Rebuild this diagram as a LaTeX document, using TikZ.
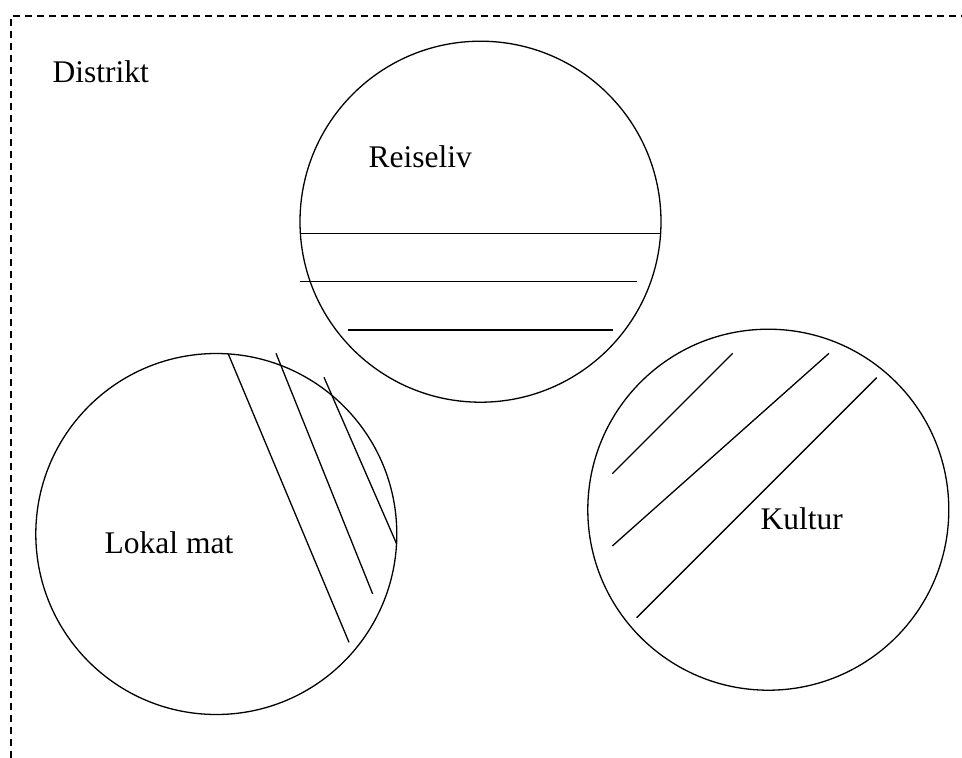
\documentclass[tikz,border=0pt]{standalone}
\usepackage{fontspec}
\setmainfont{Liberation Serif}
\usepackage{tikz}
\usetikzlibrary{positioning}

\begin{document}
\begin{tikzpicture}[x=1pt,y=-1pt,line width=1.3pt,
    area/.style={circle,draw,minimum size=361pt,inner sep=0pt},
    label/.style={anchor=base west,inner sep=0pt,font=\fontsize{31.5}{37}\selectfont},
    hatch/.style={line width=1.3pt}]
  \useasboundingbox (0,0) rectangle (962,758);
  % district frame
  \coordinate (fbot) at (11,758);
  \coordinate (fcorner) at (11,16);
  \coordinate (fright) at (962,16);
  \draw[dash pattern=on 7pt off 5pt] (fbot) -- (fcorner) -- (fright);
  \node[label] (distrikt) at (52,82) {Distrikt};
  % the three areas
  \node[area] (reise) at (480.5,221.7) {};
  \node[area] (lokal) at (216.3,534) {};
  \node[area] (kultur) at (768.3,509.7) {};
  \node[label] (reiselbl) at (368,167) {Reiseliv};
  \node[label] (lokallbl) at (104,553) {Lokal mat};
  \node[label] (kulturlbl) at (760,529) {Kultur};
  % hatching
  \draw[hatch] (300.5,233.3) -- (660.5,233.3);
  \draw[hatch] (300,281.7) -- (636.7,281.7);
  \draw[hatch] (348.3,330) -- (613.3,330);
  \draw[hatch] (228.3,354) -- (349,642.3);
  \draw[hatch] (276,353.3) -- (372.7,594);
  \draw[hatch] (324,377.3) -- (396.7,544);
  \draw[hatch] (612.3,473.7) -- (732.7,353.3);
  \draw[hatch] (612.3,546) -- (829,353.3);
  \draw[hatch] (636.7,617.7) -- (876.7,377.7);
\end{tikzpicture}
\end{document}
